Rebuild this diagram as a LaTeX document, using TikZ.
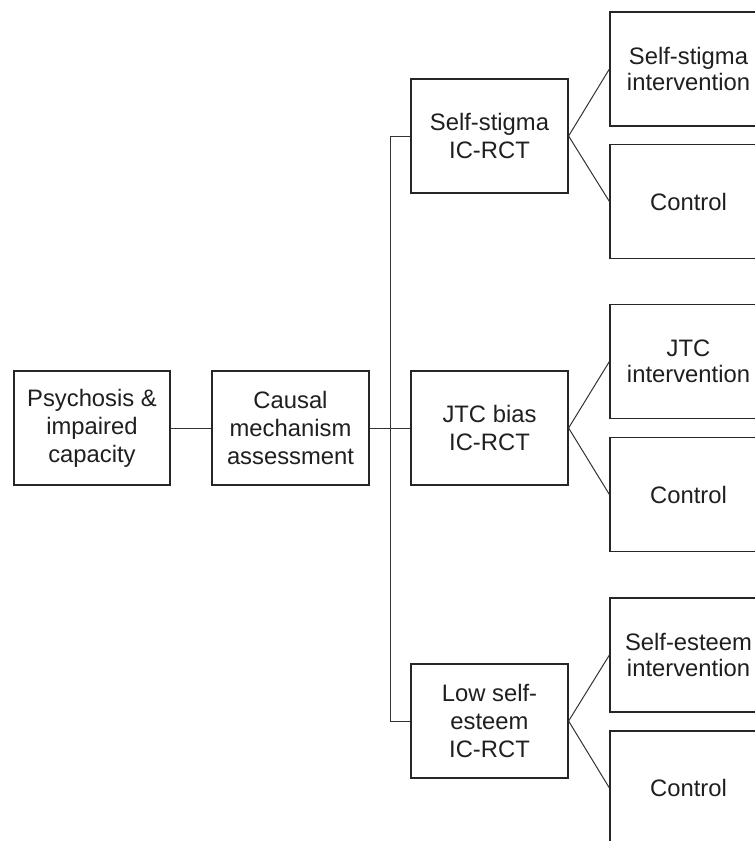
\documentclass[tikz,border=0pt]{standalone}
\usepackage{fontspec}
\setmainfont{Liberation Sans}
\begin{document}
\begin{tikzpicture}[x=1pt,y=-1pt,
  box/.style={draw=black!85, line width=1.2pt, minimum width=157pt, minimum height=114pt,
    inner sep=0pt, align=center, font=\fontsize{23.8}{28}\selectfont, text=black!88},
  ibox/.style={box, font=\fontsize{23.8}{26}\selectfont},
  link/.style={draw=black!80, line width=1pt}]
\useasboundingbox (0,0) rectangle (755,841);
\fill[white] (0,0) rectangle (755,841);
\clip (0,0) rectangle (755,841);
\node[box, minimum width=156pt] (psy) at (92,428) {Psychosis \&\\impaired\\capacity};
\node[box] (cma) at (290.5,428) {Causal\\mechanism\\assessment};
\node[box] (r1) at (489.5,136) {Self-stigma\\IC-RCT};
\node[box] (r2) at (489.5,428) {JTC bias\\IC-RCT};
\node[box] (r3) at (489.5,721) {Low self-\\esteem\\IC-RCT};
\node[ibox] (i1) at (688.5,69) {Self-stigma\\intervention};
\node[box] (c1) at (688.5,201.5) {Control};
\node[ibox] (i2) at (688.5,361.5) {JTC\\intervention};
\node[box] (c2) at (688.5,494.5) {Control};
\node[ibox] (i3) at (688.5,655) {Self-esteem\\intervention};
\node[box] (c3) at (688.5,788) {Control};
\draw[link] (psy) -- (cma);
\draw[link] (cma) -- (r2);
\draw[link] (r1.west) -- ++(-20,0) |- (r3.west);
\foreach \r/\i/\c in {r1/i1/c1, r2/i2/c2, r3/i3/c3}{
  \draw[link] (\i.west) -- (\r.east) -- (\c.west);
}
\end{tikzpicture}
\end{document}
